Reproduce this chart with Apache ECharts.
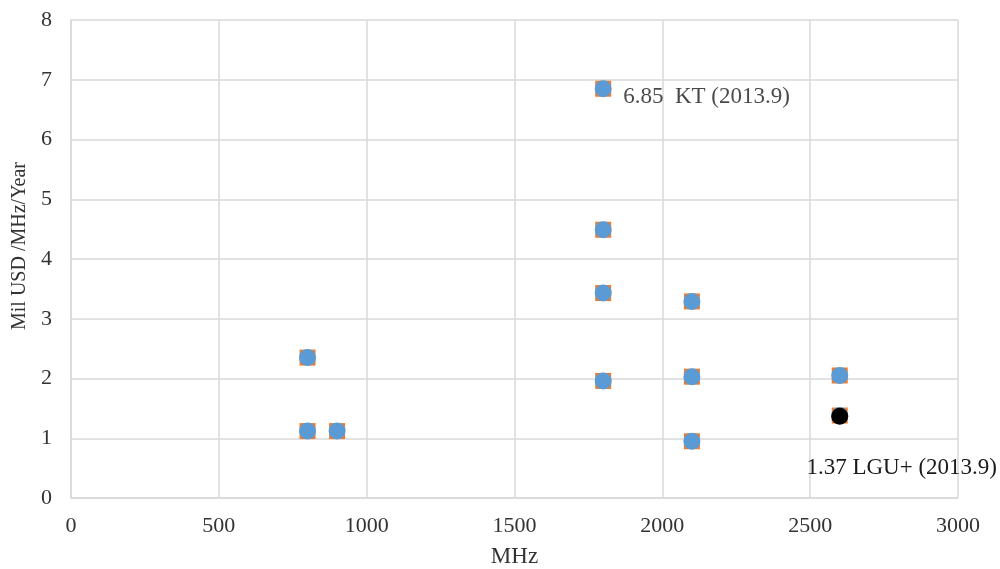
<!DOCTYPE html>
<html>
<head>
<meta charset="utf-8">
<script src="https://cdn.jsdelivr.net/npm/echarts@6/dist/echarts.min.js"></script>
<style>html,body{margin:0;padding:0;background:#fff;}#c{width:1000px;height:569px;}</style>
</head>
<body>
<div id="c"></div>
<script>
const freqMHz = [800, 800, 900, 1800, 1800, 1800, 1800, 2100, 2100, 2100, 2600, 2600];
const priceUSD = [2.35, 1.12, 1.12, 6.85, 4.49, 3.43, 1.96, 3.29, 2.03, 0.95, 2.05, 1.38];
const ktFreq = [1800];
const ktPrice = [6.85];
const ktLabel = ['6.85  KT (2013.9)'];
const lguFreq = [2600];
const lguPrice = [1.37];
const lguLabel = ['1.37 LGU+ (2013.9)'];
const xTicks = [0, 500, 1000, 1500, 2000, 2500, 3000];
const yTicks = [0, 1, 2, 3, 4, 5, 6, 7, 8];

const font = 'Liberation Serif';
const pts = freqMHz.map((f, i) => [f, priceUSD[i]]);
const ktPts = ktFreq.map((f, i) => ({value: [f, ktPrice[i]], name: ktLabel[i]}));
const lguPts = lguFreq.map((f, i) => ({value: [f, lguPrice[i]], name: lguLabel[i]}));

const chart = echarts.init(document.getElementById('c'), null, {renderer: 'canvas'});
chart.setOption({
  animation: false,
  backgroundColor: '#fff',
  grid: {left: 71, right: 42, top: 20, bottom: 71, containLabel: false, outerBoundsMode: 'none'},
  xAxis: {
    type: 'value', min: xTicks[0], max: xTicks[xTicks.length - 1], interval: 500,
    name: 'MHz', nameLocation: 'middle', nameGap: 47,
    nameTextStyle: {fontFamily: font, fontSize: 23, color: '#333'},
    axisLine: {show: true, lineStyle: {color: '#d9d9d9', width: 1.5}},
    axisTick: {show: false},
    axisLabel: {fontFamily: font, fontSize: 22, color: '#333', margin: 17, formatter: v => String(v)},
    splitLine: {show: true, lineStyle: {color: '#d9d9d9', width: 1.5}}
  },
  yAxis: {
    type: 'value', min: yTicks[0], max: yTicks[yTicks.length - 1], interval: 1,
    name: 'Mil USD /MHz/Year', nameLocation: 'middle', nameGap: 35, nameRotate: 90,
    nameTextStyle: {fontFamily: font, fontSize: 20, color: '#333', padding: [0, 0, 0, 26]},
    axisLine: {show: true, lineStyle: {color: '#d9d9d9', width: 1.5}},
    axisTick: {show: false},
    axisLabel: {fontFamily: font, fontSize: 22, color: '#333', margin: 19, formatter: v => String(v)},
    splitLine: {show: true, lineStyle: {color: '#d9d9d9', width: 1.5}}
  },
  series: [
    {type: 'scatter', data: pts, symbol: 'rect', symbolSize: 16,
     itemStyle: {color: '#ED7D31', opacity: 1}, z: 2},
    {type: 'scatter', data: pts, symbol: 'circle', symbolSize: 17,
     itemStyle: {color: '#5B9BD5', opacity: 1}, z: 3},
    {type: 'scatter', data: lguPts, symbol: 'circle', symbolSize: 17,
     itemStyle: {color: '#000', opacity: 1}, z: 4,
     label: {show: true, formatter: p => p.name, position: 'inside', offset: [62, 52],
             fontFamily: font, fontSize: 23, color: '#1a1a1a'}},
    {type: 'scatter', data: ktPts, symbolSize: 0, z: 5,
     label: {show: true, formatter: p => p.name, position: 'right', distance: 20, offset: [0, 8],
             fontFamily: font, fontSize: 23, color: '#1a1a1a'}}
  ]
});
</script>
</body>
</html>
